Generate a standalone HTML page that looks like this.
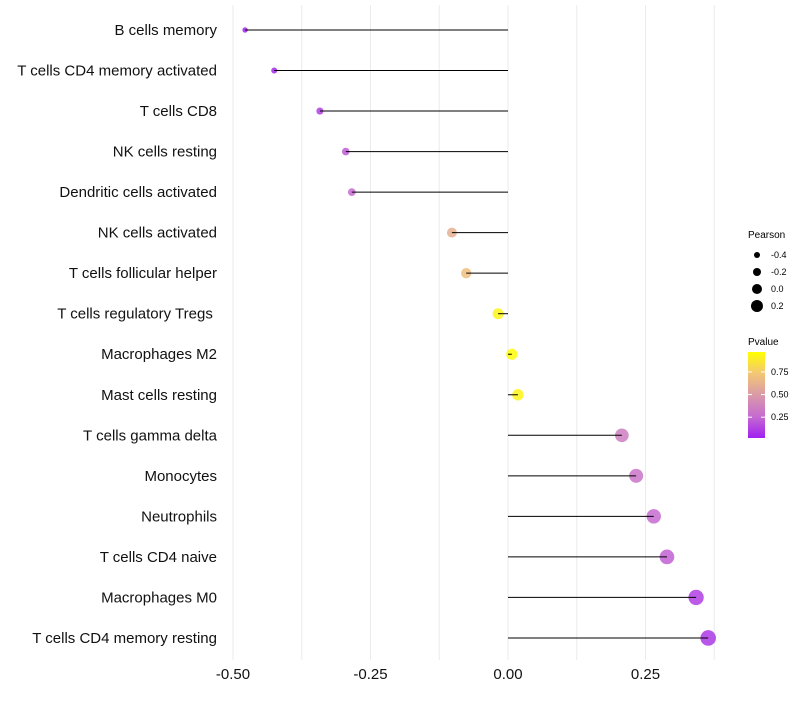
<!DOCTYPE html>
<html><head><meta charset="utf-8"><style>
body{margin:0;background:#fff;font-family:"Liberation Sans",sans-serif}
</style></head><body>
<svg id="c" width="800" height="700" xmlns="http://www.w3.org/2000/svg">
<defs><linearGradient id="pg" x1="0" y1="1" x2="0" y2="0">
<stop offset="0" stop-color="#A020F0"/><stop offset="0.25" stop-color="#C66BD0"/><stop offset="0.5" stop-color="#D99AA8"/><stop offset="0.75" stop-color="#F3C675"/><stop offset="1" stop-color="#FFFF00"/></linearGradient></defs>
<g id="grid"></g><g id="marks"></g><g id="axes"></g>
<g font-size="9">
<text x="748" y="238" font-size="10">Pearson</text>
<g id="sizeleg"></g>
</g>
<g font-size="9">
<text x="748" y="345" font-size="10">Pvalue</text>
<rect x="748" y="352" width="17" height="86" fill="url(#pg)"/>
<g id="colleg"></g>
</g>
</svg>
<script>
const categories=["B cells memory","T cells CD4 memory activated","T cells CD8","NK cells resting","Dendritic cells activated","NK cells activated","T cells follicular helper","T cells regulatory  Tregs\u00a0","Macrophages M2","Mast cells resting","T cells gamma delta","Monocytes","Neutrophils","T cells CD4 naive","Macrophages M0","T cells CD4 memory resting"];
const pearson=[-0.478,-0.425,-0.342,-0.295,-0.284,-0.102,-0.076,-0.018,0.007,0.018,0.207,0.233,0.265,0.289,0.342,0.364];
const pvalues=[0.02,0.03,0.1,0.2,0.25,0.62,0.7,0.95,0.98,0.95,0.35,0.3,0.25,0.22,0.1,0.08];
const xTicks=[-0.5,-0.25,0,0.25];
const xTickLabels=["-0.50","-0.25","0.00","0.25"];
const sizeLegend=[-0.4,-0.2,0.0,0.2];
const colorTicks=[0.25,0.5,0.75];
const NS="http://www.w3.org/2000/svg";
const x=v=>508+v*550;
const y=i=>30+i*40.53;
const rad=v=>5.6+v*6;
const lrad=v=>5+v*5;
function col(p){const st=[[0,[160,32,240]],[0.25,[198,107,208]],[0.5,[217,154,168]],[0.75,[243,198,117]],[1,[255,255,0]]];
for(let k=1;k<st.length;k++){if(p<=st[k][0]){const t=(p-st[k-1][0])/(st[k][0]-st[k-1][0]);const a=st[k-1][1],b=st[k][1];return `rgb(${a.map((c,j)=>Math.round(c+(b[j]-c)*t)).join(',')})`;}}return 'rgb(255,255,0)';}
function mk(tag,at,par){const e=document.createElementNS(NS,tag);for(const k in at)e.setAttribute(k,at[k]);document.getElementById(par).appendChild(e);return e;}
for(let v=-0.5;v<=0.4;v+=0.125){const l=mk('line',{x1:x(v),x2:x(v),y1:5,y2:660,stroke:'#ebebeb','stroke-width':1},'grid');

}
categories.forEach((c,i)=>{
const t=mk('text',{x:217,y:y(i)+5,'text-anchor':'end','font-size':15,fill:'#111'},'axes');t.textContent=c;


const ci=mk('circle',{cx:x(pearson[i]),cy:y(i),r:rad(pearson[i]),fill:col(pvalues[i]),'fill-opacity':0.85},'marks');


const ln=mk('line',{x1:x(0),x2:x(pearson[i]),y1:y(i),y2:y(i),stroke:'#000','stroke-width':1},'marks');


});
xTicks.forEach((v,i)=>{const t=mk('text',{x:x(v),y:679,'text-anchor':'middle','font-size':15,fill:'#111'},'axes');t.textContent=xTickLabels[i];

});
sizeLegend.forEach((v,i)=>{const cy=255+i*17;const c=mk('circle',{cx:757,cy:cy,r:lrad(v),fill:'#000'},'sizeleg');


const t=mk('text',{x:771,y:cy+3},'sizeleg');t.textContent=v.toFixed(1);

});
colorTicks.forEach(p=>{const yy=438-(p-0.02)/(0.97-0.02)*86;
mk('line',{x1:748,x2:752,y1:yy,y2:yy,stroke:'#fff'},'colleg');mk('line',{x1:761,x2:765,y1:yy,y2:yy,stroke:'#fff'},'colleg');
const t=mk('text',{x:771,y:yy+3},'colleg');t.textContent=p.toFixed(2);

});
</script>
</body></html>
